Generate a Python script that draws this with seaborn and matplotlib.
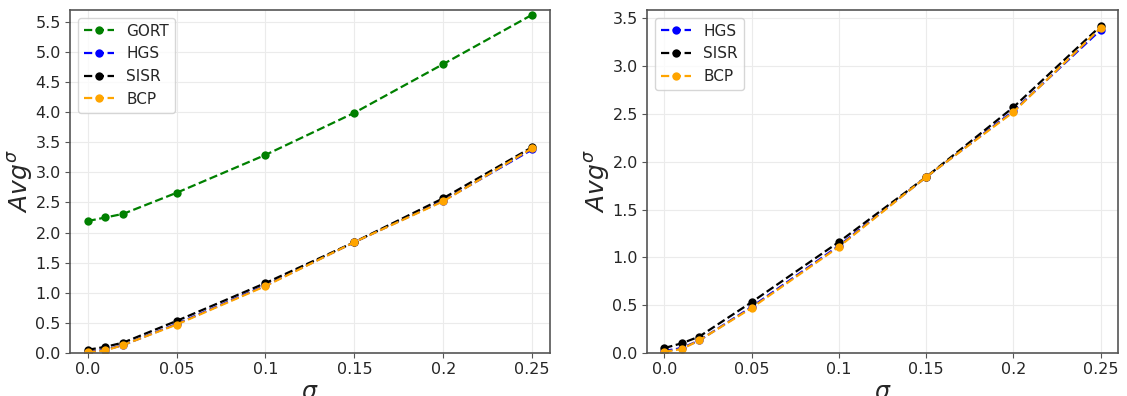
import matplotlib
matplotlib.use("Agg")
import matplotlib.pyplot as plt
import seaborn as sns
import pandas as pd

sigma = [0.0, 0.01, 0.02, 0.05, 0.1, 0.15, 0.2, 0.25]
gort = [2.19, 2.25, 2.31, 2.66, 3.29, 3.99, 4.80, 5.62]
hgs = [0.02, 0.05, 0.13, 0.48, 1.12, 1.84, 2.53, 3.38]
sisr = [0.05, 0.10, 0.17, 0.53, 1.16, 1.84, 2.57, 3.42]
bcp = [0.01, 0.04, 0.13, 0.47, 1.11, 1.84, 2.52, 3.40]
xticks = [0.0, 0.05, 0.1, 0.15, 0.2, 0.25]
xticklabels = ["0.0", "0.05", "0.1", "0.15", "0.2", "0.25"]

sns.set_style("whitegrid", {"grid.color": "#ebebeb", "axes.edgecolor": "#555555",
                            "xtick.bottom": True, "ytick.left": True})
plt.rcParams['font.family'] = ['DejaVu Sans']

fig = plt.figure(figsize=(11.27, 3.96), dpi=100)
ax1 = fig.add_axes([0.062, 0.109, 0.426, 0.866])
ax2 = fig.add_axes([0.574, 0.109, 0.418, 0.866])

def draw(ax, series):
    for name, vals, col in series:
        df = pd.DataFrame({"sigma": sigma, "val": vals})
        sns.lineplot(data=df, x="sigma", y="val", ax=ax, color=col, marker="o",
                     linestyle="--", linewidth=1.6, markersize=6, markeredgewidth=0,
                     label=name)
    ax.set_xlim(-0.01, 0.26)
    ax.set_xticks(xticks)
    ax.set_xticklabels(xticklabels)
    ax.tick_params(labelsize=11.5, length=3.5, pad=3, color="#555555")
    ax.set_xlabel(r"$\sigma$", fontsize=17, labelpad=2)
    ax.set_ylabel(r"$Avg^{\sigma}$", fontsize=18, labelpad=0)
    ax.legend(loc="upper left", fontsize=11, frameon=True, handlelength=2)
    for s in ax.spines.values():
        s.set_linewidth(1.2)

draw(ax1, [("GORT", gort, "green"), ("HGS", hgs, "blue"),
           ("SISR", sisr, "black"), ("BCP", bcp, "orange")])
ax1.set_ylim(0, 5.7)
ax1.set_yticks([0.0, 0.5, 1.0, 1.5, 2.0, 2.5, 3.0, 3.5, 4.0, 4.5, 5.0, 5.5])

draw(ax2, [("HGS", hgs, "blue"), ("SISR", sisr, "black"), ("BCP", bcp, "orange")])
ax2.set_ylim(0, 3.59)
ax2.set_yticks([0.0, 0.5, 1.0, 1.5, 2.0, 2.5, 3.0, 3.5])

fig.savefig("out.png", dpi=100)
